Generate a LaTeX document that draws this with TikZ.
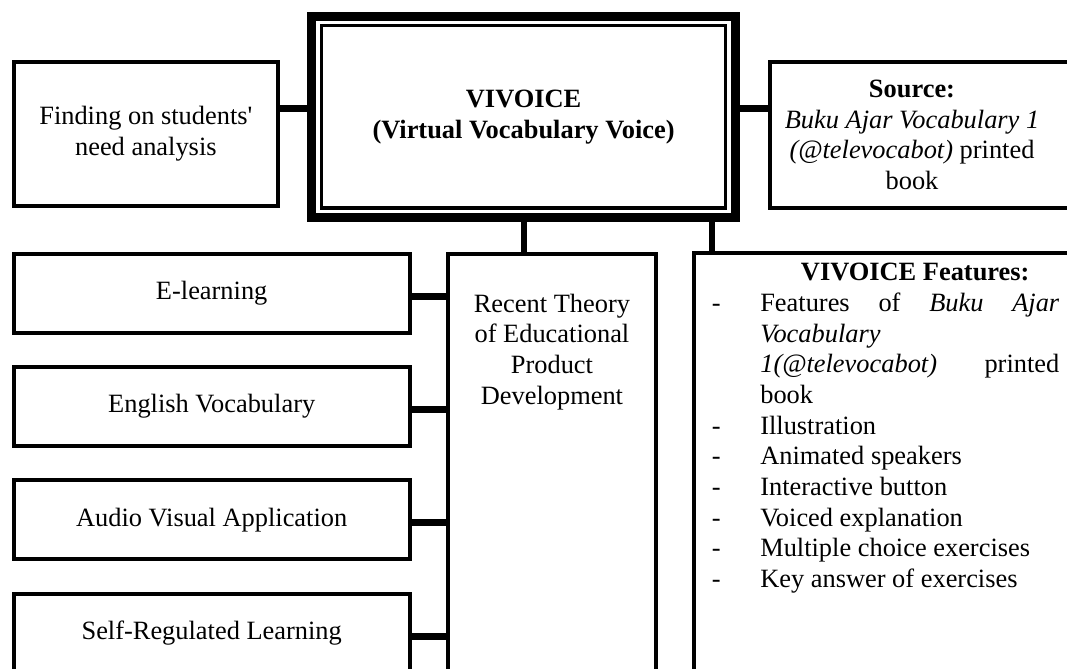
\documentclass[tikz,border=0pt]{standalone}
\usepackage{fontspec}
\setmainfont{Liberation Serif}
\newcommand{\fs}{\fontsize{19.8pt}{23pt}\selectfont}
\begin{document}
\begin{tikzpicture}[x=0.75pt,y=-0.75pt,
  box/.style={draw=black, line width=3pt, inner sep=0pt, outer sep=0pt, rectangle},
  conn/.style={draw=black, line width=5.25pt},
  vconn/.style={draw=black, line width=4.5pt},
  txt/.style={font=\fs, inner sep=0pt, align=center},
  leftbox/.style={box, txt, minimum width=297pt, minimum height=59.25pt},
]
\useasboundingbox (0,0) rectangle (1067,668);
\clip (0,0) rectangle (1067,668);

% top row
\node[box, txt, minimum width=198.2pt, minimum height=108pt] (find) at (145.85,134)
  {Finding on students\textquotesingle\\need analysis};
\node[box, line width=6.75pt, minimum width=318.2pt, minimum height=151pt] (viv) at (523.6,116.8) {};
\node[box, line width=2.5pt, txt, minimum width=303.2pt, minimum height=136.7pt] (vivin) at (523.6,116.8)
  {\textbf{VIVOICE}\\\textbf{(Virtual Vocabulary Voice)}};
\node[box, minimum width=236.25pt, minimum height=110pt] (src) at (927.5,135) {};
\node[txt] (srctxt) at (912,135)
  {\textbf{Source:}\\\textit{Buku Ajar Vocabulary 1}\\\textit{(@televocabot)} printed\\book};

% bottom row
\node[leftbox] (elearn) at (211.7,293.2) {E-learning};
\node[leftbox] (engvoc) at (211.7,406.5) {English Vocabulary};
\node[leftbox] (audvis) at (211.7,519.8) {Audio Visual Application};
\node[leftbox] (selfreg) at (211.7,633.1) {Self-Regulated Learning};

\node[box, minimum width=155.9pt, minimum height=334.7pt] (rec) at (551.95,476.85) {};
\node[txt, anchor=north] (rectxt) at (551.95,293.6)
  {Recent Theory\\of Educational\\Product\\Development};

\node[box, minimum width=293.25pt, minimum height=334.9pt] (feat) at (889.5,476.75) {};
\node[font=\fs, inner sep=0pt, align=left, anchor=north west] (feattxt) at (711.5,263.2)
  {\hbox to 260.6pt{\hfil\hspace{44.6pt}\textbf{VIVOICE Features:}\hfil}\\
   \makebox[36.4pt][l]{-}\hbox to 224.25pt{Features\hfill of\hfill\textit{Buku}\hfill\textit{Ajar}}\\
   \hspace*{36.4pt}\textit{Vocabulary}\\
   \hspace*{36.4pt}\hbox to 224.25pt{\textit{1(@televocabot)}\hfill printed}\\
   \hspace*{36.4pt}book\\
   \makebox[36.4pt][l]{-}Illustration\\
   \makebox[36.4pt][l]{-}Animated speakers\\
   \makebox[36.4pt][l]{-}Interactive button\\
   \makebox[36.4pt][l]{-}Voiced explanation\\
   \makebox[36.4pt][l]{-}Multiple choice exercises\\
   \makebox[36.4pt][l]{-}Key answer of exercises};

% connectors
\coordinate (cy) at (0,108.7);
\coordinate (fx) at (712.2,0);
\draw[conn] (find.east |- cy) -- (viv.west |- cy);
\draw[conn] (viv.east |- cy) -- (src.west |- cy);
\draw[vconn] (viv.south) -- (viv.south |- rec.north);
\draw[vconn] (viv.south -| fx) -- (feat.north -| fx);
\foreach \n in {elearn,engvoc,audvis,selfreg}
  \draw[conn] ([yshift=-2.2pt]\n.east) -- ([yshift=-2.2pt]\n.east -| rec.west);
\end{tikzpicture}
\end{document}
